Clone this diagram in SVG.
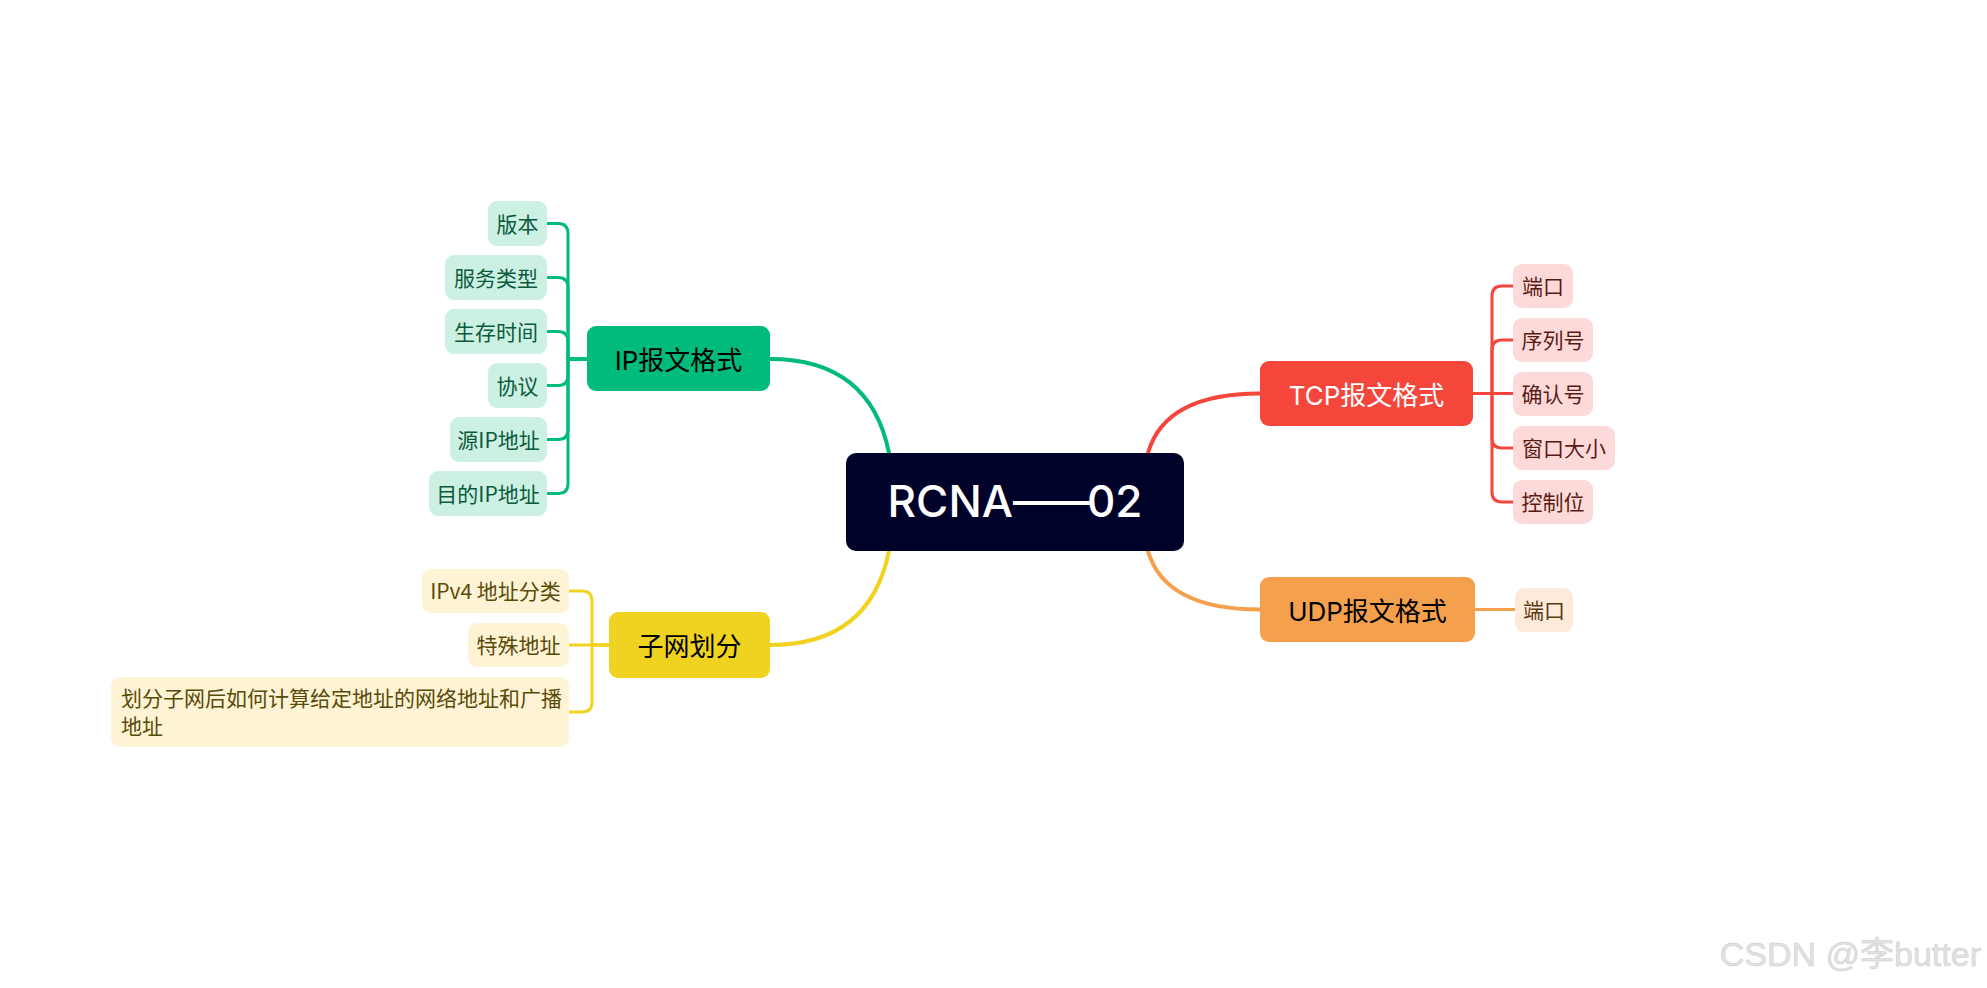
<svg xmlns="http://www.w3.org/2000/svg" width="1987" height="988" viewBox="0 0 1987 988">
<style>
.main{font-family:Inter,"Noto Sans CJK SC",sans-serif;font-size:26px;text-anchor:middle}
.leaf{font-family:"Noto Sans CJK SC","Noto Sans",sans-serif;font-size:21px;text-anchor:middle}
.leaf.start{text-anchor:start}
.c{fill:none;stroke-linecap:round;stroke-linejoin:round}
.g{stroke:#00bb7b}.r{stroke:#f5463b}.o{stroke:#f5a04c}.y{stroke:#f0d320}
.big{stroke-width:4}.sm{stroke-width:3}
.gl{fill:#ccf1e3}.rl{fill:#fddad9}.ol{fill:#feeadb}.yl{fill:#fef4d5}
.gt{fill:#0b5a3c}.rt{fill:#5a1a14}.ot{fill:#5a3a12}.yt{fill:#5a4a08}
</style>
<rect width="1987" height="988" fill="#ffffff"/>
<g id="connectors">
<path class="c g big" d="M889,453 Q870,359 770,359"/>
<path class="c y big" d="M889,551 Q870,645 770,645"/>
<path class="c r big" d="M1148,453 Q1165,393.5 1260,393.5"/>
<path class="c o big" d="M1148,551 Q1165,609.5 1260,609.5"/>
<path class="c g sm" d="M587,359 H568 V233.5 Q568,223.5 558,223.5 H547"/>
<path class="c g sm" d="M587,359 H568 V287.5 Q568,277.5 558,277.5 H547"/>
<path class="c g sm" d="M587,359 H568 V341.5 Q568,331.5 558,331.5 H547"/>
<path class="c g sm" d="M587,359 H568 V375.5 Q568,385.5 558,385.5 H547"/>
<path class="c g sm" d="M587,359 H568 V429.5 Q568,439.5 558,439.5 H547"/>
<path class="c g sm" d="M587,359 H568 V483.5 Q568,493.5 558,493.5 H547"/>
<path class="c r sm" d="M1473,393.5 H1492 V296 Q1492,286 1502,286 H1513"/>
<path class="c r sm" d="M1473,393.5 H1492 V350 Q1492,340 1502,340 H1513"/>
<path class="c r sm" d="M1473,393.5 H1513"/>
<path class="c r sm" d="M1473,393.5 H1492 V438 Q1492,448 1502,448 H1513"/>
<path class="c r sm" d="M1473,393.5 H1492 V492 Q1492,502 1502,502 H1513"/>
<path class="c o sm" d="M1475,609.5 H1515"/>
<path class="c y sm" d="M609,645 H592 V601 Q592,591 582,591 H569"/>
<path class="c y sm" d="M609,645 H569"/>
<path class="c y sm" d="M609,645 H592 V702 Q592,712 582,712 H569"/>
</g>
<g id="root">
<rect x="846" y="453" width="338" height="98" rx="10" fill="#000229"/>
<text x="1015" y="517" font-family="Inter,'Noto Sans',sans-serif" font-size="44" font-weight="500" fill="#ffffff" text-anchor="middle">RCNA<tspan letter-spacing="-7">——</tspan>02</text>
</g>
<g id="ip">
<rect x="587" y="326" width="183" height="65" rx="9" fill="#00bb7b"/>
<text class="main" x="678.5" y="370" fill="#000000">IP报文格式</text>
</g>
<g id="ip-1"><rect class="gl" x="488" y="201" width="59" height="45" rx="9"/><text class="leaf gt" x="517.5" y="231.5">版本</text></g>
<g id="ip-2"><rect class="gl" x="445" y="255" width="102" height="45" rx="9"/><text class="leaf gt" x="496" y="285.5">服务类型</text></g>
<g id="ip-3"><rect class="gl" x="445" y="309" width="102" height="45" rx="9"/><text class="leaf gt" x="496" y="339.5">生存时间</text></g>
<g id="ip-4"><rect class="gl" x="488" y="363" width="59" height="45" rx="9"/><text class="leaf gt" x="517.5" y="393.5">协议</text></g>
<g id="ip-5"><rect class="gl" x="450" y="417" width="97" height="45" rx="9"/><text class="leaf gt" x="498.5" y="447.5">源IP地址</text></g>
<g id="ip-6"><rect class="gl" x="429" y="471" width="118" height="45" rx="9"/><text class="leaf gt" x="488" y="501.5">目的IP地址</text></g>
<g id="subnet">
<rect x="609" y="612" width="161" height="66" rx="9" fill="#f0d320"/>
<text class="main" x="689.5" y="656" fill="#000000">子网划分</text>
</g>
<g id="subnet-1"><rect class="yl" x="422" y="569" width="147" height="44" rx="9"/><text class="leaf yt" x="495.5" y="599">IPv4 地址分类</text></g>
<g id="subnet-2"><rect class="yl" x="468" y="623" width="101" height="44" rx="9"/><text class="leaf yt" x="518.5" y="653">特殊地址</text></g>
<g id="subnet-3"><rect class="yl" x="111" y="677" width="458" height="70" rx="9"/><text class="leaf start yt" x="121" y="706">划分子网后如何计算给定地址的网络地址和广播</text><text class="leaf start yt" x="121" y="734">地址</text></g>
<g id="tcp">
<rect x="1260" y="361" width="213" height="65" rx="9" fill="#f5463b"/>
<text class="main" x="1366.5" y="404.5" fill="#ffffff">TCP报文格式</text>
</g>
<g id="tcp-1"><rect class="rl" x="1513" y="264" width="60" height="44" rx="9"/><text class="leaf rt" x="1543" y="294">端口</text></g>
<g id="tcp-2"><rect class="rl" x="1513" y="318" width="80" height="44" rx="9"/><text class="leaf rt" x="1553" y="348">序列号</text></g>
<g id="tcp-3"><rect class="rl" x="1513" y="372" width="80" height="44" rx="9"/><text class="leaf rt" x="1553" y="402">确认号</text></g>
<g id="tcp-4"><rect class="rl" x="1513" y="426" width="102" height="44" rx="9"/><text class="leaf rt" x="1564" y="456">窗口大小</text></g>
<g id="tcp-5"><rect class="rl" x="1513" y="480" width="80" height="44" rx="9"/><text class="leaf rt" x="1553" y="510">控制位</text></g>
<g id="udp">
<rect x="1260" y="577" width="215" height="65" rx="9" fill="#f5a04c"/>
<text class="main" x="1367.5" y="620.5" fill="#000000">UDP报文格式</text>
</g>
<g id="udp-1"><rect class="ol" x="1515" y="588" width="58" height="44" rx="9"/><text class="leaf ot" x="1544" y="618">端口</text></g>
<text x="1981" y="966" font-family="'Liberation Sans','Noto Sans CJK SC',sans-serif" font-size="34" fill="#e2e2e2" stroke="#cccccc" stroke-width="0.5" text-anchor="end">CSDN @李butter</text>
</svg>
